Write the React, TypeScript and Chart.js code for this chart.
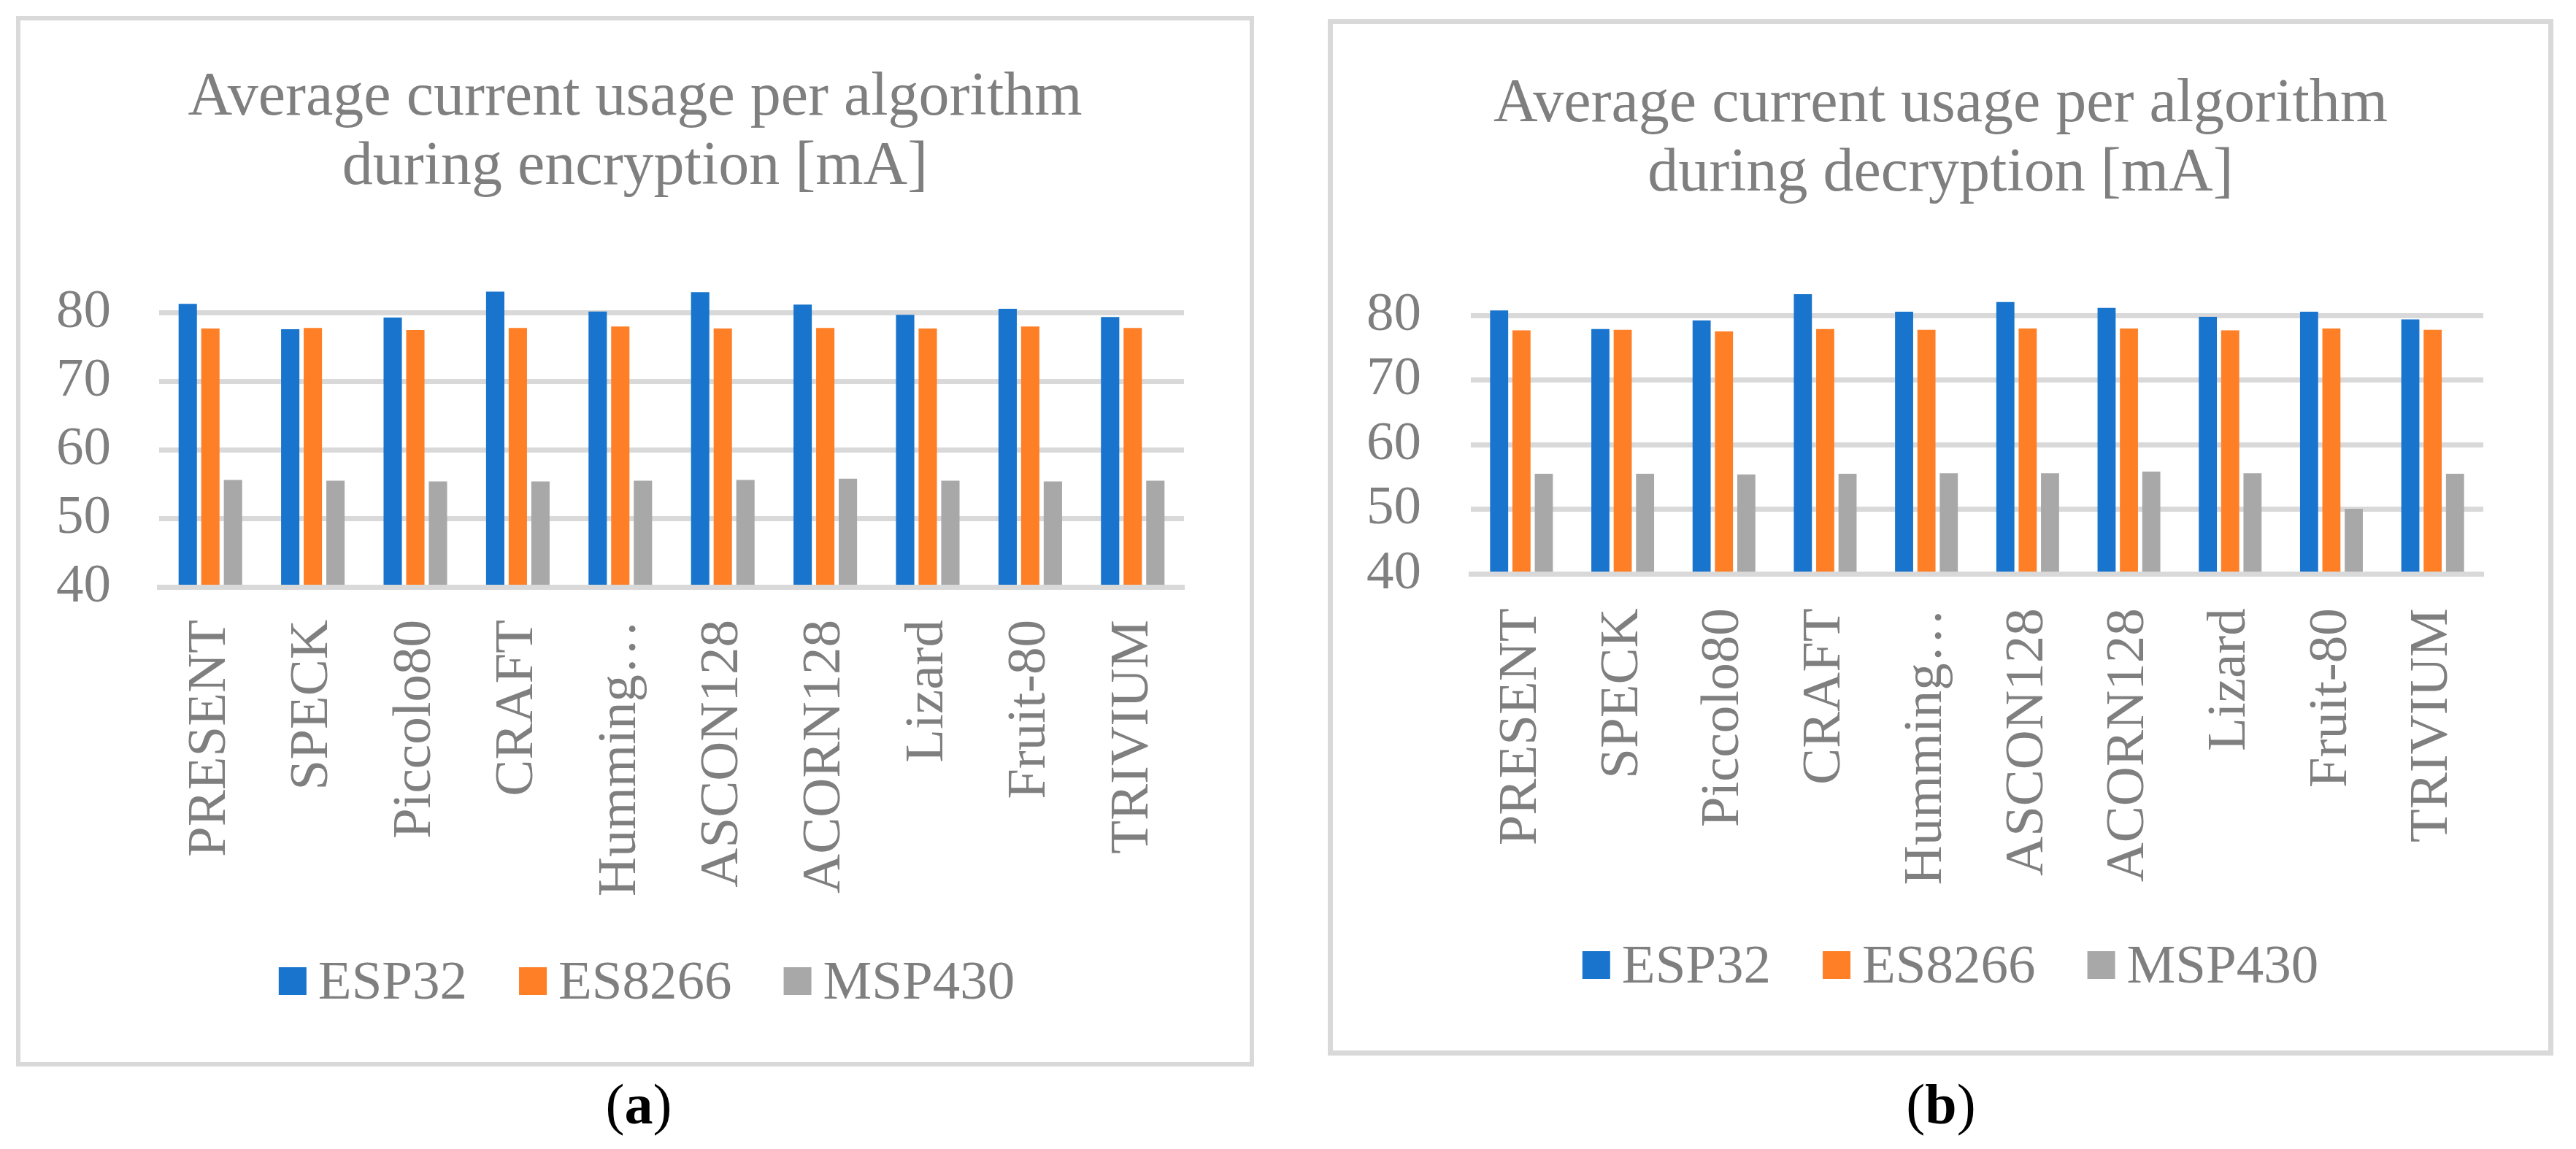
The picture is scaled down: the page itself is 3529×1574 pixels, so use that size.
import React, { useEffect, useRef } from "react";
import { Chart, registerables } from "chart.js";

Chart.register(...registerables);

// ---- data ----
const categories = ["PRESENT", "SPECK", "Piccolo80", "CRAFT", "Humming\u2026", "ASCON128", "ACORN128", "Lizard", "Fruit-80", "TRIVIUM"];
const seriesNames = ["ESP32", "ES8266", "MSP430"];
const seriesColors = ["#1874CD", "#FF7F27", "#A8A8A8"];

const encESP32 = [81.3, 77.6, 79.3, 83.1, 80.2, 83.0, 81.2, 79.7, 80.6, 79.4];
const encES8266 = [77.7, 77.8, 77.5, 77.8, 78.0, 77.7, 77.8, 77.7, 78.0, 77.8];
const encMSP430 = [55.6, 55.5, 55.4, 55.4, 55.5, 55.6, 55.8, 55.5, 55.4, 55.5];

const decESP32 = [80.8, 77.9, 79.25, 83.3, 80.6, 82.1, 81.2, 79.8, 80.6, 79.4];
const decES8266 = [77.7, 77.8, 77.55, 77.9, 77.8, 78.0, 78.0, 77.7, 78.0, 77.8];
const decMSP430 = [55.5, 55.5, 55.4, 55.5, 55.6, 55.6, 55.85, 55.6, 50.1, 55.5];

const yTickValues = [40, 50, 60, 70, 80];
const yMin = 40;
const yMax = 85;

const encTitle = ["Average current usage per algorithm", "during encryption [mA]"];
const decTitle = ["Average current usage per algorithm", "during decryption [mA]"];

const FONT = "Liberation Serif";
const TEXT_GRAY = "#7F7F7F";
const GRID = "#D9D9D9";

const legendPlugin = {
  id: "customLegend",
  afterDraw(chart: any, _args: any, opts: any) {
    const ctx = chart.ctx;
    ctx.save();
    ctx.font = `${opts.fontSize}px "${FONT}"`;
    const items = chart.data.datasets.map((d: any) => ({ text: d.label, color: d.backgroundColor }));
    const widths = items.map((it: any) => ctx.measureText(it.text).width);
    let total = 0;
    items.forEach((_: any, i: number) => {
      total += opts.box + opts.gap + widths[i];
    });
    total += opts.itemGap * (items.length - 1);
    let x = opts.cx - total / 2;
    items.forEach((it: any, i: number) => {
      ctx.fillStyle = it.color;
      ctx.fillRect(x, opts.cy - opts.box / 2, opts.box, opts.box);
      x += opts.box + opts.gap;
      ctx.fillStyle = TEXT_GRAY;
      ctx.textAlign = "left";
      ctx.textBaseline = "alphabetic";
      ctx.fillText(it.text, x, opts.cy + opts.baselineOffset);
      x += widths[i] + opts.itemGap;
    });
    ctx.restore();
  },
};

type PanelProps = {
  width: number;
  height: number;
  title: string[];
  values: number[][];
  yWidth: number;
  padRight: number;
  titleTop: number;
  titleBottom: number;
  yPad: number;
  xPad: number;
  xHeight: number;
  legendCx: number;
  legendCy: number;
};

function BarPanel(p: PanelProps) {
  const ref = useRef<HTMLCanvasElement | null>(null);
  useEffect(() => {
    if (!ref.current) return;
    const chart = new Chart(ref.current, {
      type: "bar",
      data: {
        labels: categories,
        datasets: seriesNames.map((n, i) => ({
          label: n,
          data: p.values[i],
          backgroundColor: seriesColors[i],
          borderWidth: 0,
          barPercentage: 0.81,
          categoryPercentage: 0.662,
        })),
      },
      options: {
        responsive: false,
        animation: false,
        devicePixelRatio: 1,
        layout: { padding: 0 },
        plugins: {
          legend: { display: false },
          tooltip: { enabled: false },
          title: {
            display: true,
            text: p.title,
            color: TEXT_GRAY,
            font: { family: FONT, size: 84, weight: "normal", lineHeight: 95 / 84 },
            padding: { top: p.titleTop, bottom: p.titleBottom },
          },
          customLegend: {
            cx: p.legendCx,
            cy: p.legendCy,
            box: 38,
            gap: 16,
            itemGap: 71,
            fontSize: 75,
            baselineOffset: 24,
          },
        } as any,
        scales: {
          x: {
            grid: { display: false, drawTicks: false },
            border: { display: true, color: GRID, width: 7, z: 1 },
            ticks: {
              autoSkip: false,
              maxRotation: 90,
              minRotation: 90,
              padding: p.xPad,
              color: TEXT_GRAY,
              font: { family: FONT, size: 75 },
            },
            afterFit: (s: any) => {
              s.height = p.xHeight;
              s.paddingLeft = 0;
              s.paddingRight = p.padRight;
            },
          },
          y: {
            min: yMin,
            max: yMax,
            beginAtZero: false,
            grid: { color: GRID, lineWidth: 7, drawTicks: false },
            border: { display: false },
            ticks: {
              padding: p.yPad,
              color: TEXT_GRAY,
              font: { family: FONT, size: 75 },
            },
            afterBuildTicks: (s: any) => {
              s.ticks = yTickValues.map((v) => ({ value: v }));
            },
            afterFit: (s: any) => {
              s.width = p.yWidth;
            },
          },
        },
      } as any,
      plugins: [legendPlugin as any],
    });
    return () => chart.destroy();
  }, []);
  return <canvas ref={ref} width={p.width} height={p.height} style={{ display: "block", width: p.width, height: p.height }} />;
}

export default function App() {
  return (
    <div style={{ position: "absolute", left: 0, top: 0, width: 3529, height: 1574, background: "#fff", overflow: "hidden" }}>
      <div
        style={{
          position: "absolute",
          left: 22,
          top: 22,
          width: 1696,
          height: 1439,
          border: `6px solid ${GRID}`,
          boxSizing: "border-box",
          background: "#fff",
        }}
      >
        <BarPanel
          width={1684}
          height={1427}
          title={encTitle}
          values={[encESP32, encES8266, encMSP430]}
          yWidth={190}
          padRight={90}
          titleTop={59.5}
          titleBottom={104.1}
          yPad={66}
          xPad={45}
          xHeight={651}
          legendCx={858}
          legendCy={1316}
        />
      </div>
      <div
        style={{
          position: "absolute",
          left: 1819,
          top: 26,
          width: 1679,
          height: 1420,
          border: `7px solid ${GRID}`,
          boxSizing: "border-box",
          background: "#fff",
        }}
      >
        <BarPanel
          width={1665}
          height={1406}
          title={decTitle}
          values={[decESP32, decES8266, decMSP430]}
          yWidth={189}
          padRight={89}
          titleTop={63.5}
          titleBottom={101.5}
          yPad={68}
          xPad={47}
          xHeight={652.7}
          legendCx={846}
          legendCy={1289}
        />
      </div>
      <div
        style={{
          position: "absolute",
          left: 675,
          width: 400,
          top: 1474,
          textAlign: "center",
          fontFamily: FONT,
          fontSize: 78,
          lineHeight: "78px",
          color: "#000",
        }}
      >
        (<b>a</b>)
      </div>
      <div
        style={{
          position: "absolute",
          left: 2459,
          width: 400,
          top: 1474,
          textAlign: "center",
          fontFamily: FONT,
          fontSize: 78,
          lineHeight: "78px",
          color: "#000",
        }}
      >
        (<b>b</b>)
      </div>
    </div>
  );
}
